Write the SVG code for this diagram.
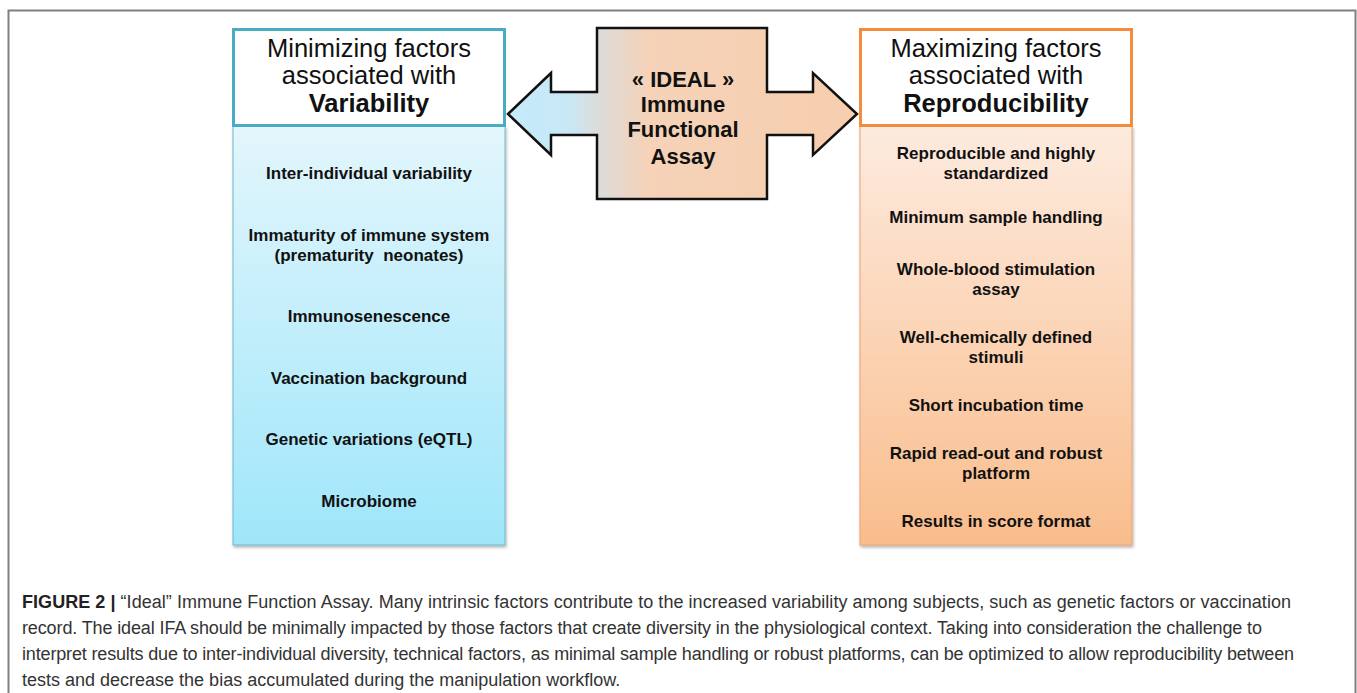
<svg xmlns="http://www.w3.org/2000/svg" width="1357" height="693" viewBox="0 0 1357 693">
<defs>
<linearGradient id="gBlue" x1="0" y1="0" x2="0" y2="1">
<stop offset="0" stop-color="#E3F6FC"/>
<stop offset="1" stop-color="#9FE6FA"/>
</linearGradient>
<linearGradient id="gOrange" x1="0" y1="0" x2="0" y2="1">
<stop offset="0" stop-color="#FDEBDF"/>
<stop offset="1" stop-color="#F9BD8C"/>
</linearGradient>
<linearGradient id="gArrow" gradientUnits="userSpaceOnUse" x1="508" y1="0" x2="857" y2="0">
<stop offset="0" stop-color="#C4EAFA"/>
<stop offset="0.17" stop-color="#C8E8F6"/>
<stop offset="0.26" stop-color="#DCDCDA"/>
<stop offset="0.40" stop-color="#F5D2B8"/>
<stop offset="1" stop-color="#F7CEAE"/>
</linearGradient>
<filter id="sh" x="-5%" y="-5%" width="110%" height="110%">
<feDropShadow dx="1" dy="2" stdDeviation="1.5" flood-color="#000" flood-opacity="0.3"/>
</filter>
<style>
.hdr{font-family:"Liberation Sans",Arial,sans-serif;font-size:25.5px;fill:#111;text-anchor:middle}
.b{font-weight:bold}
.item{font-family:"Liberation Sans",Arial,sans-serif;font-size:17px;font-weight:bold;fill:#111;text-anchor:middle}
.ctr{font-family:"Liberation Sans",Arial,sans-serif;font-size:22px;font-weight:bold;fill:#111;text-anchor:middle}
.cap{font-family:"Liberation Sans",Arial,sans-serif;font-size:18px;fill:#333}
</style>
</defs>
<rect width="1357" height="693" fill="#fff"/>
<path d="M8.5,693 V10.5 H1355.5 V693" fill="none" stroke="#808080" stroke-width="2"/>

<g id="left-box">
<rect x="233" y="126" width="272" height="419" fill="url(#gBlue)" stroke="#6CB8CC" stroke-width="1" filter="url(#sh)"/>
<rect x="233.5" y="29.5" width="271" height="96" fill="#fff" stroke="#4AABC4" stroke-width="3"/>
<text class="hdr" x="369" y="57">Minimizing factors</text>
<text class="hdr" x="369" y="84">associated with</text>
<text class="hdr b" x="369" y="112">Variability</text>
<text class="item" x="369" y="179">Inter-individual variability</text>
<text class="item" x="369" y="241">Immaturity of immune system</text>
<text class="item" x="369" y="261" xml:space="preserve">(prematurity  neonates)</text>
<text class="item" x="369" y="322">Immunosenescence</text>
<text class="item" x="369" y="384">Vaccination background</text>
<text class="item" x="369" y="445">Genetic variations (eQTL)</text>
<text class="item" x="369" y="507">Microbiome</text>
</g>

<g id="right-box">
<rect x="860" y="126" width="272" height="419" fill="url(#gOrange)" stroke="#F0A070" stroke-width="1" filter="url(#sh)"/>
<rect x="860.5" y="29.5" width="271" height="96" fill="#fff" stroke="#F28C3C" stroke-width="3"/>
<text class="hdr" x="996" y="57">Maximizing factors</text>
<text class="hdr" x="996" y="84">associated with</text>
<text class="hdr b" x="996" y="112">Reproducibility</text>
<text class="item" x="996" y="159">Reproducible and highly</text>
<text class="item" x="996" y="179">standardized</text>
<text class="item" x="996" y="223">Minimum sample handling</text>
<text class="item" x="996" y="275">Whole-blood stimulation</text>
<text class="item" x="996" y="295">assay</text>
<text class="item" x="996" y="343">Well-chemically defined</text>
<text class="item" x="996" y="363">stimuli</text>
<text class="item" x="996" y="411">Short incubation time</text>
<text class="item" x="996" y="459">Rapid read-out and robust</text>
<text class="item" x="996" y="479">platform</text>
<text class="item" x="996" y="527">Results in score format</text>
</g>

<g id="connectors">
<g id="ideal-arrow">
<polygon points="508,114 551,73 551,92 597,92 597,28 767,28 767,92 813,92 813,73 857,114 813,155 813,135 767,135 767,199 597,199 597,135 551,135 551,155" fill="url(#gArrow)" stroke="#111" stroke-width="2.5" stroke-linejoin="miter"/>
<text class="ctr" x="683" y="87">« IDEAL »</text>
<text class="ctr" x="683" y="112">Immune</text>
<text class="ctr" x="683" y="137">Functional</text>
<text class="ctr" x="683" y="164">Assay</text>
</g>
</g>

<g id="caption">
<text class="cap" x="22" y="608" textLength="1269" lengthAdjust="spacing"><tspan font-weight="bold" fill="#222">FIGURE 2 |</tspan> “Ideal” Immune Function Assay. Many intrinsic factors contribute to the increased variability among subjects, such as genetic factors or vaccination</text>
<text class="cap" x="22" y="634" textLength="1240" lengthAdjust="spacing">record. The ideal IFA should be minimally impacted by those factors that create diversity in the physiological context. Taking into consideration the challenge to</text>
<text class="cap" x="22" y="660" textLength="1272" lengthAdjust="spacing">interpret results due to inter-individual diversity, technical factors, as minimal sample handling or robust platforms, can be optimized to allow reproducibility between</text>
<text class="cap" x="22" y="686">tests and decrease the bias accumulated during the manipulation workflow.</text>
</g>
</svg>
